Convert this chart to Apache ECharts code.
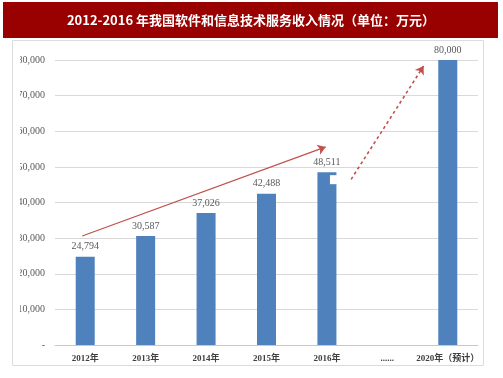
<!DOCTYPE html>
<html>
<head>
<meta charset="utf-8">
<script src="https://cdn.jsdelivr.net/npm/echarts@6/dist/echarts.min.js"></script>
<style>
  html, body { margin: 0; padding: 0; background: #fff; }
  #main { width: 503px; height: 378px; }
</style>
</head>
<body>
<div id="main"></div>
<script>
// 数据
var titleText = '2012-2016 年我国软件和信息技术服务收入情况（单位：万元）';
var categories = ['2012年', '2013年', '2014年', '2015年', '2016年', '......', '2020年（预计）'];
var revenue = [24794, 30587, 37026, 42488, 48511, null, 80000];
// 趋势箭头 [类目位置, 数值]
var solidArrow = [[-0.05, 30600], [3.98, 55600]];
var dashArrow = [[4.4, 46500], [5.6, 78300]];

var myChart = echarts.init(document.getElementById('main'));

var option = {
    animation: false,
    graphic: [
        { id: 'titleBg', type: 'rect', shape: { x: 3, y: 2, width: 495, height: 36 }, style: { fill: '#990000' }, z: 0 },
        { id: 'titleText', type: 'text', x: 251, y: 20, style: {
            text: titleText, fill: '#fff', align: 'center', verticalAlign: 'middle',
            font: 'bold 13px "Noto Sans CJK SC", sans-serif' } },
        // 左侧遮挡（原图刻度标签被截断）
        { id: 'leftMask', type: 'rect', shape: { x: 13, y: 41, width: 7, height: 323 }, style: { fill: '#fff' }, z: 100 },
        { id: 'frame', type: 'rect', shape: { x: 12.5, y: 40.5, width: 471, height: 325 },
          style: { fill: 'none', stroke: '#dcdcdc', lineWidth: 1 }, z: 101 }
    ],
    grid: { left: 55, right: 25, top: 60, bottom: 33 },
    xAxis: [{
        type: 'category',
        data: categories,
        axisTick: { show: false },
        axisLine: { lineStyle: { color: '#c8c8c8' } },
        axisLabel: {
            interval: 0, margin: 9,
            color: '#404040', fontSize: 9, fontWeight: 'bold',
            fontFamily: '"Liberation Serif", "Noto Sans CJK SC", serif'
        }
    }, {
        type: 'value', min: -0.5, max: 6.5, show: false
    }],
    yAxis: {
        type: 'value',
        min: 0, max: 80000, interval: 10000,
        axisLine: { show: false },
        axisTick: { show: false },
        splitLine: { lineStyle: { color: '#d9d9d9' } },
        axisLabel: {
            margin: 10, color: '#595959', fontSize: 10,
            fontFamily: '"Liberation Serif", serif',
            formatter: function (v) { return v === 0 ? '-' : v.toLocaleString('en-US'); }
        }
    },
    series: [{
        type: 'bar',
        data: revenue,
        barWidth: 19,
        itemStyle: { color: '#4f81bd' },
        label: {
            show: true, position: 'top', distance: 5,
            color: '#595959', fontSize: 10,
            fontFamily: '"Liberation Serif", serif',
            formatter: function (p) { return p.value.toLocaleString('en-US'); }
        }
    }, {
        type: 'line',
        xAxisIndex: 1,
        data: [],
        markLine: {
            silent: true,
            symbol: ['none', 'arrow'],
            symbolSize: 8,
            label: { show: false },
            data: [
                [{ coord: solidArrow[0], lineStyle: { color: '#c0504d', width: 1.2, type: 'solid' } },
                 { coord: solidArrow[1] }],
                [{ coord: dashArrow[0], lineStyle: { color: '#c0504d', width: 1.6, type: [3, 3] } },
                 { coord: dashArrow[1] }]
            ]
        }
    }]
};
myChart.setOption(option);

// 2016年柱子右上角的白色缺口
var p = myChart.convertToPixel({ xAxisIndex: 0, yAxisIndex: 0 }, [4, revenue[4]]);
myChart.setOption({
    graphic: [{ id: 'notch', type: 'rect', shape: { x: p[0] + 3, y: p[1] + 3, width: 7, height: 9 },
                style: { fill: '#fff' }, z: 50 }]
});
</script>
</body>
</html>
